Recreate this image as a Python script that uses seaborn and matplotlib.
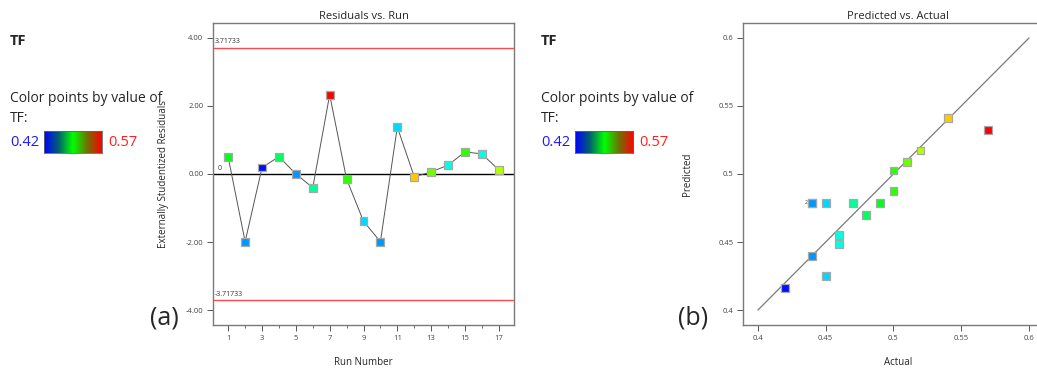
import numpy as np
import pandas as pd
import matplotlib
matplotlib.use('Agg')
import matplotlib.pyplot as plt
from matplotlib.colors import ListedColormap, LinearSegmentedColormap
import seaborn as sns

# data
runs = list(range(1, 18))
residuals = [0.49, -1.99, 0.19, 0.51, 0.00, -0.40, 2.33, -0.15, -1.39, -1.99,
             1.38, -0.08, 0.06, 0.26, 0.65, 0.59, 0.12]
actual_tf = [0.49, 0.44, 0.42, 0.48, 0.44, 0.47, 0.57, 0.50, 0.45, 0.44,
             0.45, 0.54, 0.51, 0.46, 0.50, 0.46, 0.52]
predicted_tf = [0.4787, 0.4787, 0.4162, 0.4700, 0.4400, 0.4787, 0.5325, 0.5026, 0.4787, 0.4787,
                0.4253, 0.5411, 0.5087, 0.4550, 0.4876, 0.4488, 0.5173]
limit = 3.71733
tf_min, tf_max = 0.42, 0.57

df = pd.DataFrame({'Run': runs, 'Residual': residuals, 'Actual': actual_tf, 'Predicted': predicted_tf})

sns.set_style('white')
plt.rcParams['font.family'] = ['Open Sans', 'DejaVu Sans']

# blue -> cyan -> green -> yellow -> red for the points
point_cmap = ListedColormap(plt.cm.hsv(np.linspace(2 / 3, 0, 256)))
# the little swatch in the legend is darker in between
bar_cmap = LinearSegmentedColormap.from_list(
    'bar', ['#0000ff', '#006070', '#00ff00', '#707000', '#ff0000'])

W, H = 1037, 371
fig = plt.figure(figsize=(W / 100, H / 100), dpi=100)

edge = '#a8a8a8'
tick_col = '#444444'


def style_axes(ax):
    for s in ax.spines.values():
        s.set_color('#7a7a7a')
        s.set_linewidth(1.0)
    ax.tick_params(axis='both', which='major', direction='out', length=4, width=0.7,
                   colors='#555555', labelsize=5.5, labelcolor=tick_col, pad=3,
                   left=True, bottom=True)
    ax.tick_params(axis='x', which='minor', direction='out', length=2, width=0.6,
                   colors='#555555', bottom=True)


def side_legend(x0):
    fig.text(x0 / W, 1 - 41 / H, 'TF', fontsize=10.5, fontweight='bold', va='center')
    fig.text(x0 / W, 1 - 98 / H, 'Color points by value of', fontsize=10, va='center')
    fig.text(x0 / W, 1 - 119 / H, 'TF:', fontsize=10, va='center')
    fig.text(x0 / W, 1 - 142 / H, '0.42', fontsize=10.5, va='center', color='#1a1aff')
    cax = fig.add_axes([(x0 + 34) / W, 1 - 153 / H, 58 / W, 22 / H])
    cax.imshow(np.linspace(0, 1, 256)[None, :], aspect='auto', cmap=bar_cmap)
    cax.set_xticks([])
    cax.set_yticks([])
    for s in cax.spines.values():
        s.set_color('#666666')
        s.set_linewidth(0.6)
    fig.text((x0 + 98) / W, 1 - 142 / H, '0.57', fontsize=10.5, va='center', color='#ff2020')


# ---------- (a) residuals vs run ----------
ax1 = fig.add_axes([213 / W, 1 - 325 / H, 301 / W, 302 / H])
ax1.axhline(limit, color='#ff4a4a', lw=1.0)
ax1.axhline(-limit, color='#ff4a4a', lw=1.0)
ax1.axhline(0, color='black', lw=1.0)
sns.lineplot(data=df, x='Run', y='Residual', ax=ax1, color='#555555', lw=0.7, sort=False)
sns.scatterplot(data=df, x='Run', y='Residual', hue='Actual', palette=point_cmap,
                hue_norm=(tf_min, tf_max), marker='s', s=32, edgecolor=edge,
                linewidth=0.9, ax=ax1, legend=False, zorder=3)
ax1.text(0.2, limit + 0.12, f'{limit:.5f}', fontsize=5, color='#333333')
ax1.text(0.2, -limit + 0.12, f'-{limit:.5f}', fontsize=5, color='#333333')
ax1.text(0.35, 0.12, '0', fontsize=5, color='#333333')
ax1.set_xlim(0.1, 17.9)
ax1.set_ylim(-4.44, 4.44)
ax1.set_xticks(range(1, 18, 2))
ax1.set_xticks(range(2, 18, 2), minor=True)
ax1.set_yticks([-4, -2, 0, 2, 4])
ax1.set_yticklabels([f'{v:.2f}' for v in [-4, -2, 0, 2, 4]])
style_axes(ax1)
ax1.set_title('Residuals vs. Run', fontsize=8, pad=3)
ax1.set_xlabel('Run Number', fontsize=7, labelpad=11)
ax1.set_ylabel('Externally Studentized Residuals', fontsize=7, labelpad=12)

# ---------- (b) predicted vs actual ----------
ax2 = fig.add_axes([743 / W, 1 - 325 / H, 310 / W, 302 / H])
ax2.plot([0.4, 0.6], [0.4, 0.6], color='#7a7a7a', lw=0.9)
sns.scatterplot(data=df, x='Actual', y='Predicted', hue='Actual', palette=point_cmap,
                hue_norm=(tf_min, tf_max), marker='s', s=32, edgecolor=edge,
                linewidth=0.9, ax=ax2, legend=False, zorder=3)
ax2.text(0.4345, 0.4787, '2', fontsize=3.5, color='#333333', va='center')
ax2.set_xlim(0.389, 0.6177)
ax2.set_ylim(0.389, 0.611)
ax2.set_xticks([0.4, 0.45, 0.5, 0.55, 0.6])
ax2.set_xticklabels(['0.4', '0.45', '0.5', '0.55', '0.6'])
ax2.set_yticks([0.4, 0.45, 0.5, 0.55, 0.6])
ax2.set_yticklabels(['0.4', '0.45', '0.5', '0.55', '0.6'])
style_axes(ax2)
ax2.set_title('Predicted vs. Actual', fontsize=8, pad=3)
ax2.set_xlabel('Actual', fontsize=7, labelpad=11)
ax2.set_ylabel('Predicted', fontsize=7, labelpad=18)

side_legend(10)
side_legend(541)

fig.text(150 / W, 1 - 318 / H, '(a)', fontsize=18, va='center')
fig.text(678 / W, 1 - 318 / H, '(b)', fontsize=18, va='center')

fig.savefig('out.png', dpi=100)
